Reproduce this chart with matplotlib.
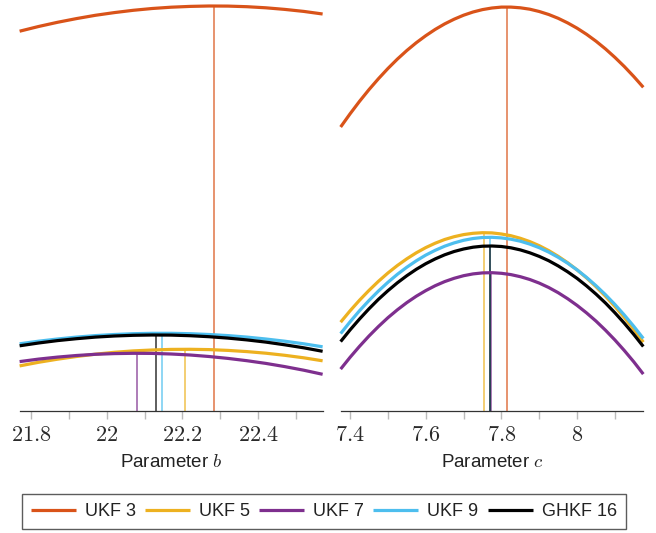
import matplotlib
matplotlib.use("Agg")
import matplotlib.pyplot as plt
from matplotlib import ticker

plt.rcParams['font.family'] = ['Liberation Sans', 'DejaVu Sans']
plt.rcParams['mathtext.fontset'] = 'cm'

# ---- data ----
names = ["UKF 3", "UKF 5", "UKF 7", "UKF 9", "GHKF 16"]
colors = ["#D95319", "#EDB120", "#7E2F8E", "#4DBEEE", "#000000"]

b_grid = [21.77, 21.82, 21.87, 21.92, 21.97, 22.02, 22.07, 22.12, 22.17,
          22.22, 22.27, 22.32, 22.37, 22.42, 22.47, 22.52, 22.57]
b_ukf3 = [379.5, 384.2, 388.4, 392.1, 395.4, 398.1, 400.4, 402.2, 403.5,
          404.3, 404.7, 404.6, 404.0, 402.9, 401.3, 399.3, 396.7]
b_ukf5 = [44.8, 48.4, 51.5, 54.2, 56.5, 58.4, 59.8, 60.7, 61.3,
          61.4, 61.1, 60.3, 59.1, 57.5, 55.4, 52.9, 49.9]
b_ukf7 = [49.1, 51.6, 53.6, 55.2, 56.4, 57.1, 57.4, 57.3, 56.7,
          55.7, 54.2, 52.3, 50.0, 47.3, 44.1, 40.5, 36.4]
b_ukf9 = [66.9, 69.5, 71.7, 73.6, 75.1, 76.2, 77.0, 77.4, 77.4,
          77.0, 76.2, 75.1, 73.6, 71.7, 69.5, 66.9, 63.9]
b_ghkf16 = [64.9, 67.7, 70.1, 72.0, 73.6, 74.7, 75.4, 75.7, 75.6,
            75.0, 74.0, 72.6, 70.8, 68.6, 65.9, 62.9, 59.4]
b_peak_x = [22.282, 22.207, 22.079, 22.145, 22.129]
b_peak_y = [404.7, 61.4, 57.4, 77.4, 75.7]

c_grid = [7.375, 7.400, 7.425, 7.450, 7.475, 7.500, 7.525, 7.550, 7.575,
          7.600, 7.625, 7.650, 7.675, 7.700, 7.725, 7.750, 7.775, 7.800,
          7.825, 7.850, 7.875, 7.900, 7.925, 7.950, 7.975, 8.000, 8.025,
          8.050, 8.075, 8.100, 8.125, 8.150, 8.175]
c_ukf3 = [283.7, 296.9, 309.4, 321.1, 332.0, 342.2, 351.6, 360.2, 368.0,
          375.0, 381.3, 386.8, 391.5, 395.5, 398.7, 401.1, 402.7, 403.6,
          403.6, 402.9, 401.5, 399.2, 396.2, 392.4, 387.8, 382.5, 376.4,
          369.5, 361.8, 353.3, 344.1, 334.1, 323.4]
c_ukf5 = [88.5, 99.9, 110.5, 120.3, 129.4, 137.7, 145.2, 151.9, 157.9,
          163.1, 167.5, 171.2, 174.0, 176.1, 177.4, 178.0, 177.8, 176.7,
          175.0, 172.4, 169.1, 165.0, 160.1, 154.4, 148.0, 140.8, 132.8,
          124.0, 114.5, 104.2, 93.1, 81.3, 68.6]
c_ukf7 = [41.6, 53.4, 64.4, 74.7, 84.2, 93.0, 100.9, 108.1, 114.5,
          120.1, 125.0, 129.1, 132.4, 135.0, 136.8, 137.8, 138.0, 137.4,
          136.1, 134.0, 131.2, 127.6, 123.2, 118.0, 112.0, 105.3, 97.8,
          89.6, 80.5, 70.7, 60.1, 48.8, 36.6]
c_ukf9 = [77.1, 88.9, 100.0, 110.2, 119.7, 128.4, 136.4, 143.5, 149.9,
          155.6, 160.4, 164.5, 167.8, 170.4, 172.2, 173.2, 173.4, 172.8,
          171.5, 169.5, 166.6, 163.0, 158.6, 153.4, 147.5, 140.8, 133.3,
          125.0, 116.0, 106.2, 95.6, 84.3, 72.2]
c_ghkf16 = [69.1, 80.8, 91.7, 101.9, 111.4, 120.0, 127.9, 135.0, 141.4,
            147.0, 151.8, 155.9, 159.2, 161.7, 163.5, 164.5, 164.7, 164.2,
            162.9, 160.8, 157.9, 154.3, 150.0, 144.8, 138.9, 132.3, 124.8,
            116.6, 107.7, 97.9, 87.4, 76.2, 64.2]
c_peak_x = [7.815, 7.755, 7.772, 7.770, 7.771]
c_peak_y = [403.7, 178.0, 138.0, 173.4, 164.7]

b_ticks = [21.8, 22.0, 22.2, 22.4]
b_ticklabels = ["21.8", "22", "22.2", "22.4"]
c_ticks = [7.4, 7.6, 7.8, 8.0]
c_ticklabels = ["7.4", "7.6", "7.8", "8"]

# ---- figure ----
W, H = 656, 533
fig = plt.figure(figsize=(W / 100, H / 100), dpi=100)

base_px = 410.7
top_px = 5.0
ax_b = fig.add_axes([20 / W, (H - base_px) / H, 303 / W, (base_px - top_px) / H])
ax_c = fig.add_axes([341 / W, (H - base_px) / H, 302.3 / W, (base_px - top_px) / H])

panels = [
    (ax_b, b_grid, [b_ukf3, b_ukf5, b_ukf7, b_ukf9, b_ghkf16], b_peak_x, b_peak_y,
     (21.771, 22.571), b_ticks, b_ticklabels, r"Parameter $b$", 0.1),
    (ax_c, c_grid, [c_ukf3, c_ukf5, c_ukf7, c_ukf9, c_ghkf16], c_peak_x, c_peak_y,
     (7.376, 8.175), c_ticks, c_ticklabels, r"Parameter $c$", 0.1),
]

handles = []
for ax, grid, series, px, py, xlim, ticks, tlabels, xlabel, minor in panels:
    for i, (ys, col) in enumerate(zip(series, colors)):
        ax.vlines(px[i], 0, py[i], color=col, lw=1.1, alpha=0.8, zorder=1)
    for i, (ys, col) in enumerate(zip(series, colors)):
        ln, = ax.plot(grid, ys, color=col, lw=2.3, solid_capstyle='butt',
                      solid_joinstyle='round', zorder=2 + i, clip_on=False,
                      label=names[i])
        if ax is ax_b:
            handles.append(ln)
    ax.set_xlim(*xlim)
    ax.set_ylim(0, base_px - top_px)
    for s in ["left", "right", "top"]:
        ax.spines[s].set_visible(False)
    ax.spines["bottom"].set_color("#333333")
    ax.spines["bottom"].set_linewidth(0.9)
    ax.set_yticks([])
    ax.set_xticks(ticks)
    ax.set_xticklabels(["$" + t + "$" for t in tlabels])
    ax.xaxis.set_minor_locator(ticker.MultipleLocator(minor))
    ax.tick_params(axis='x', which='both', direction='out', length=5.4,
                   width=1.0, color="#bbbbbb", labelsize=16, pad=5,
                   labelcolor="#2a2a2a")
    ax.set_xlabel(xlabel, fontsize=13.5, labelpad=5.5, color="#222222")

leg = fig.legend(handles=handles, loc='center', ncol=5,
                 bbox_to_anchor=(((21.7 + 626) / 2) / W, (H - 511.7) / H),
                 frameon=True, fancybox=False, fontsize=13,
                 handlelength=2.5, handletextpad=0.5, columnspacing=0.5,
                 borderpad=0.5, edgecolor="#333333")
leg.get_frame().set_linewidth(1.0)
for t in leg.get_texts():
    t.set_color("#222222")

fig.savefig("out.png", dpi=100)
